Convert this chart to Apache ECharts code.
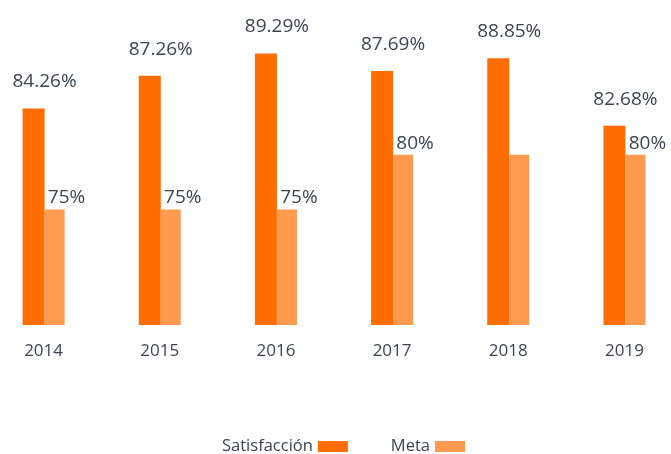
<!DOCTYPE html>
<html>
<head>
<meta charset="utf-8">
<script src="https://cdn.jsdelivr.net/npm/echarts@6/dist/echarts.min.js"></script>
<style>
  html, body { margin: 0; padding: 0; background: #fff; }
  #chart { width: 671px; height: 454px; }
</style>
</head>
<body>
<div id="chart"></div>
<script>
const years = ['2014', '2015', '2016', '2017', '2018', '2019'];
const satisfaccion = [84.26, 87.26, 89.29, 87.69, 88.85, 82.68];
const meta = [75, 75, 75, 80, 80, 80];
// the 2018 meta bar has no label in the original
const metaLabelShown = [true, true, true, true, false, true];

const textColor = '#3d4350';

let myChart = echarts.init(document.getElementById('chart'));
let option = {
  animation: false,
  textStyle: { fontFamily: 'Open Sans' },
  grid: { left: -14.5, width: 697, top: 0, height: 325, outerBoundsMode: 'none', containLabel: false },
  legend: {
    left: 217,
    top: 433,
    align: 'right',
    itemWidth: 30,
    itemHeight: 11,
    itemGap: 43,
    icon: 'rect',
    textStyle: { fontSize: 16.5, color: textColor, fontFamily: 'Open Sans' },
    data: ['Satisfacción', 'Meta']
  },
  xAxis: {
    type: 'category',
    data: years,
    axisLine: { show: false },
    axisTick: { show: false },
    axisLabel: { fontSize: 17, color: textColor, margin: 18, fontFamily: 'Open Sans' }
  },
  yAxis: {
    type: 'value',
    show: false,
    min: 64.4,
    max: 94.2,
    splitLine: { show: false }
  },
  series: [
    {
      name: 'Satisfacción',
      type: 'bar',
      barWidth: 22,
      barGap: '0%',
      itemStyle: { color: '#ff6c00' },
      label: {
        show: true,
        position: 'top',
        distance: 17,
        offset: [11, 0],
        fontSize: 19,
        color: textColor,
        fontFamily: 'Open Sans',
        formatter: p => p.value.toFixed(2) + '%'
      },
      data: satisfaccion
    },
    {
      name: 'Meta',
      type: 'bar',
      barWidth: 20,
      barGap: '0%',
      itemStyle: { color: '#ff9a4e' },
      label: {
        position: 'top',
        distance: 2,
        offset: [12, 0],
        fontSize: 19,
        color: textColor,
        fontFamily: 'Open Sans',
        formatter: p => p.value + '%'
      },
      data: meta.map((v, i) => ({ value: v, label: { show: metaLabelShown[i] } }))
    }
  ]
};
myChart.setOption(option);
</script>
</body>
</html>
